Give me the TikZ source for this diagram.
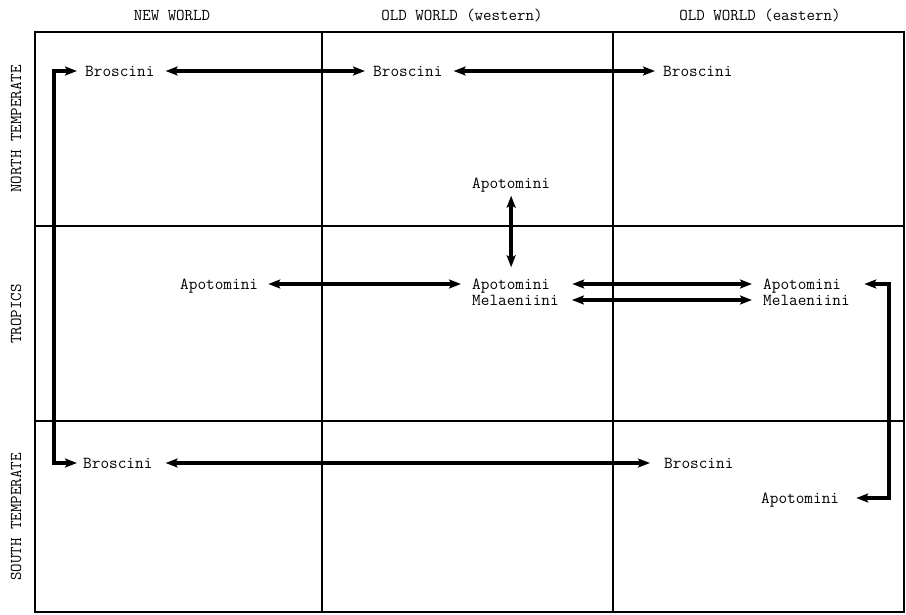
\documentclass[tikz,border=0pt]{standalone}
\usepackage{fontspec}
\usetikzlibrary{arrows.meta}
\newcommand{\labfont}{\ttfamily\fontsize{16.8}{19}\selectfont}
\newcommand{\headfont}{\ttfamily\fontsize{16.5}{19}\selectfont}
\tikzset{
  grid line/.style={line width=1.5pt},
  taxon/.style={inner sep=0pt, text height=11pt, text depth=0pt, anchor=west, font=\labfont},
  heading/.style={inner sep=0pt, font=\headfont},
  rowhead/.style={inner sep=0pt, font=\headfont, rotate=90},
  link/.style={line width=3.8pt, {Stealth[length=12pt,width=9pt,inset=2.5pt]}-{Stealth[length=12pt,width=9pt,inset=2.5pt]}},
}
\begin{document}
\begin{tikzpicture}[x=1pt,y=-1pt]
\useasboundingbox (0,0) rectangle (906,614);

% frame and cell grid
\draw[grid line] (35,32) rectangle (904,612);
\draw[grid line] (322,32) -- (322,612);
\draw[grid line] (613,32) -- (613,612);
\draw[grid line] (35,226) -- (904,226);
\draw[grid line] (35,421) -- (904,421);

% column and row headings
\node[heading] (hnw) at (172,15) {NEW WORLD};
\node[heading] (howw) at (462,15) {OLD WORLD (western)};
\node[heading] (howe) at (760,15) {OLD WORLD (eastern)};
\node[rowhead] (rnt) at (16,129) {NORTH TEMPERATE};
\node[rowhead] (rtr) at (16,314) {TROPICS};
\node[rowhead] (rst) at (16,517) {SOUTH TEMPERATE};

% taxa
\node[taxon] (bnw)  at (85,71)   {Broscini};
\node[taxon] (bow)  at (373,71)  {Broscini};
\node[taxon] (boe)  at (663,71)  {Broscini};
\node[taxon] (atop) at (472,183) {Apotomini};
\node[taxon] (atnw) at (180,284) {Apotomini};
\node[taxon] (atow) at (472,284) {Apotomini};
\node[taxon] (mow)  at (472,300) {Melaeniini};
\node[taxon] (atoe) at (763,284) {Apotomini};
\node[taxon] (moe)  at (763,300) {Melaeniini};
\node[taxon] (bsnw) at (83,463)  {Broscini};
\node[taxon] (bsoe) at (664,463) {Broscini};
\node[taxon] (aboe) at (761,498) {Apotomini};

% dispersal links
\draw[link, shorten <=8pt, shorten >=6pt] (bnw.west) -- ++(-31,0) |- (bsnw.west);
\draw[link, shorten <=11pt, shorten >=8pt] (bnw.east) -- (bow.west);
\draw[link, shorten <=11pt, shorten >=8pt] (bow.east) -- (boe.west);
\draw[link, shorten <=7pt, shorten >=11pt] (atop.south) -- (atow.north);
\draw[link, shorten <=10pt, shorten >=11pt] (atnw.east) -- (atow.west);
\draw[link, shorten <=22pt, shorten >=11pt] (atow.east) -- (atoe.west);
\draw[link, shorten <=13pt, shorten >=11pt] (mow.east) -- (moe.west);
\draw[link, shorten <=23pt, shorten >=17pt] (atoe.east) -- ++(47.6,0) |- (aboe.east);
\draw[link, shorten <=13pt, shorten >=14pt] (bsnw.east) -- (bsoe.west);
\end{tikzpicture}
\end{document}
